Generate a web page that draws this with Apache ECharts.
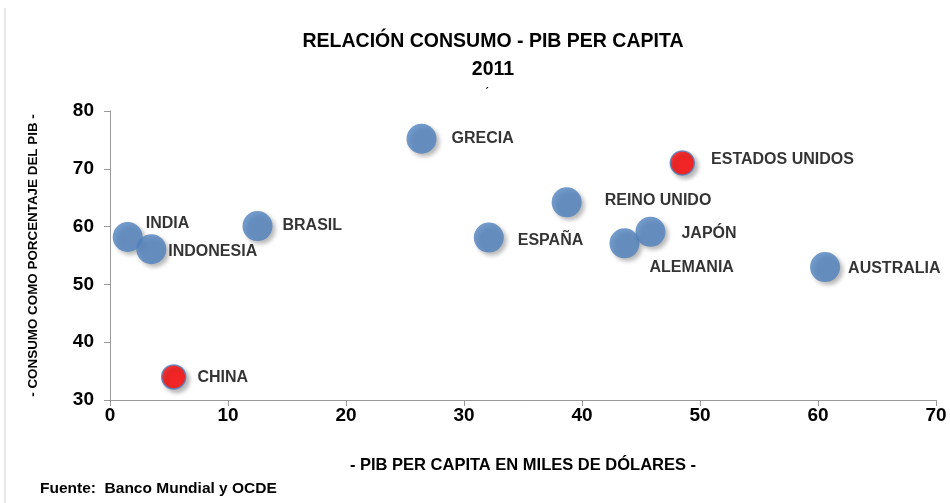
<!DOCTYPE html>
<html><head><meta charset="utf-8">
<script src="https://cdn.jsdelivr.net/npm/echarts@6/dist/echarts.min.js"></script>
<style>html,body{margin:0;padding:0;background:#fff}#c{width:950px;height:503px}</style>
</head><body><div id="c"></div>
<script>
const countries = ['INDIA','INDONESIA','CHINA','BRASIL','GRECIA','ESPAÑA','REINO UNIDO','ESTADOS UNIDOS','ALEMANIA','JAPÓN','AUSTRALIA'];
const pibPerCapita = [1.5, 3.5, 5.4, 12.5, 26.4, 32.1, 38.7, 48.5, 43.6, 45.8, 60.6];
const consumo = [58.2, 56.1, 34, 60.1, 75.2, 58.1, 64.2, 71, 57.1, 59.1, 53];
const highlighted = ['CHINA','ESTADOS UNIDOS'];
const xTicks = [0,10,20,30,40,50,60,70];
const yTicks = [30,40,50,60,70,80];

const FONT = '"Liberation Sans", Arial, sans-serif';
const labelPlacement = {
  'INDIA': [-2, -13],
  'INDONESIA': [-3, 2],
  'CHINA': [6, 1],
  'BRASIL': [5, 0],
  'GRECIA': [10, 0],
  'ESPAÑA': [9, 3],
  'REINO UNIDO': [18, -2],
  'ESTADOS UNIDOS': [11, -3],
  'ALEMANIA': [5, 24],
  'JAPÓN': [11, 2],
  'AUSTRALIA': [3, 2]
};

const data = countries.map((n, i) => {
  const hi = highlighted.includes(n);
  return {
    name: n,
    value: [pibPerCapita[i], consumo[i]],
    itemStyle: hi ? {color: '#FF0000', borderColor: '#4F81BD', borderWidth: 1.5} : {color: '#4F81BD'},
    symbolSize: hi ? 24 : 30,
    label: {show: true, formatter: n, position: 'right', offset: labelPlacement[n] || [10, 0]}
  };
});

const chart = echarts.init(document.getElementById('c'), null, {renderer: 'canvas'});
chart.setOption({
  animation: false,
  backgroundColor: '#fff',
  title: {
    text: 'RELACIÓN CONSUMO - PIB PER CAPITA\n2011',
    left: 488, top: 23, textAlign: 'center',
    textStyle: {fontFamily: FONT, fontWeight: 'bold', fontSize: 19.5, lineHeight: 28, color: '#000'}
  },
  graphic: [
    {type: 'line', shape: {x1: 5, y1: 8, x2: 5, y2: 503}, style: {stroke: '#d0d0d0', lineWidth: 1}},
    {type: 'text', left: 485, top: 88, style: {text: '\u02CA', font: '12px ' + FONT, fill: '#000'}},
    {type: 'text', left: 40, top: 481, style: {text: 'Fuente:  Banco Mundial y OCDE', font: 'bold 15.5px ' + FONT, fill: '#000'}}
  ],
  grid: {left: 110, right: 14, top: 111, bottom: 103},
  xAxis: {
    type: 'value', min: 0, max: 70, interval: 10,
    name: '- PIB PER CAPITA EN MILES DE DÓLARES -',
    nameLocation: 'middle', nameGap: 57,
    nameTextStyle: {fontFamily: FONT, fontWeight: 'bold', fontSize: 16.5, color: '#000'},
    axisLine: {show: true, lineStyle: {color: '#999', width: 1}},
    axisTick: {show: true, length: 6, lineStyle: {color: '#999'}},
    axisLabel: {fontFamily: FONT, fontWeight: 'bold', fontSize: 19, color: '#000', margin: 6,
      formatter: v => xTicks.includes(v) ? String(v) : ''},
    splitLine: {show: false}
  },
  yAxis: {
    type: 'value', min: 30, max: 80, interval: 10,
    name: '- CONSUMO COMO PORCENTAJE DEL PIB -',
    nameLocation: 'middle', nameGap: 70, nameRotate: 90,
    nameTextStyle: {fontFamily: FONT, fontWeight: 'bold', fontSize: 13.4, color: '#000'},
    axisLine: {show: true, lineStyle: {color: '#999', width: 1}},
    axisTick: {show: true, length: 6, lineStyle: {color: '#999'}},
    axisLabel: {fontFamily: FONT, fontWeight: 'bold', fontSize: 19, color: '#000', margin: 16,
      formatter: v => yTicks.includes(v) ? String(v) : ''},
    splitLine: {show: false}
  },
  series: [{
    type: 'scatter',
    data: data,
    itemStyle: {shadowBlur: 4, shadowOffsetX: 3, shadowOffsetY: 3, shadowColor: 'rgba(0,0,0,0.35)'},
    label: {fontFamily: FONT, fontWeight: 'bold', fontSize: 16, color: '#000'}
  }]
});
</script></body></html>
